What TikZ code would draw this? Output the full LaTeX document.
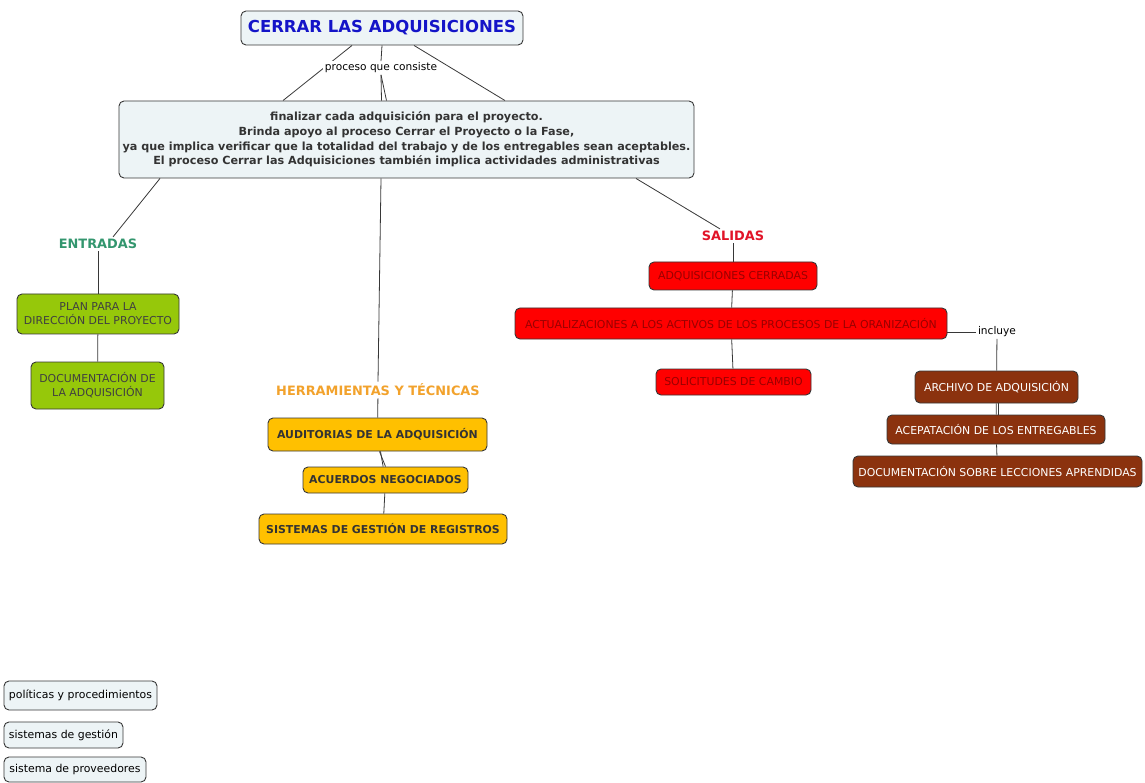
\documentclass[tikz,border=0pt]{standalone}
\usepackage{fontspec}
\setmainfont{DejaVu Sans}
\usepackage{tikz}
\usetikzlibrary{positioning,calc,backgrounds}
\definecolor{cmapblue}{RGB}{20,20,200}
\definecolor{boxpale}{RGB}{237,244,246}
\definecolor{linegray}{RGB}{55,55,55}
\definecolor{ingreen}{RGB}{51,150,110}
\definecolor{toolorange}{RGB}{242,162,44}
\definecolor{outred}{RGB}{225,20,40}
\definecolor{leafgreen}{RGB}{150,200,10}
\definecolor{leafgold}{RGB}{255,192,0}
\definecolor{leafred}{RGB}{255,0,0}
\definecolor{leafbrown}{RGB}{139,50,14}
\newcommand{\fs}[1]{\fontsize{#1}{1.3\dimexpr#1pt\relax}\selectfont}
\tikzset{
  concept/.style={draw=linegray, line width=0.9pt, rounded corners=5pt,
                  inner sep=0pt, align=center},
  paleblk/.style={concept, fill=boxpale, text=black, font=\fs{10.9}},
  greenblk/.style={concept, fill=leafgreen, text=black!75, font=\fs{10.9}},
  goldblk/.style={concept, fill=leafgold, text=black!80, font=\bfseries\fs{10.9}},
  redblk/.style={concept, fill=leafred, text=red!60!black, font=\fs{10.9}},
  brownblk/.style={concept, fill=leafbrown, text=white, font=\fs{10.9}},
  heading/.style={font=\bfseries\fs{12.9}, inner sep=2pt},
  linkword/.style={font=\fs{10.6}, fill=white, inner sep=1.5pt},
  conn/.style={draw=linegray, line width=0.8pt},
}

\begin{document}
\begin{tikzpicture}[x=1pt, y=-1pt]
  \useasboundingbox (0,0) rectangle (1145,783);
  % title and main description
  \node[concept, fill=boxpale, text=cmapblue, font=\bfseries\fs{16.5},
        minimum width=282, minimum height=34] (title) at (382,28) {CERRAR LAS ADQUISICIONES};
  \node[linkword] (consiste) at (381,68) {proceso que consiste};
  \node[paleblk, font=\bfseries\fs{11.2}, text=black!80, minimum width=575, minimum height=77,
        align=center] (main) at (406.5,139.5)
       {finalizar cada adquisición para el proyecto.\\
        Brinda apoyo al proceso Cerrar el Proyecto o la Fase,\\
        ya que implica verificar que la totalidad del trabajo y de los entregables sean aceptables.\\
        El proceso Cerrar las Adquisiciones también implica actividades administrativas};
  \begin{pgfonlayer}{background}
    \draw[conn] ([xshift=-30]title.south) -- ([xshift=-123.5]main.north);
    \draw[conn] ([xshift=32]title.south) -- ([xshift=98.5]main.north);
  \end{pgfonlayer}
  \draw[conn] (title.south) -- (consiste.north);
  \draw[conn] (consiste.south) -- ([xshift=-25]main.north);
  \draw[conn] (consiste.south) -- ([xshift=-20]main.north);

  % entradas
  \node[heading, text=ingreen] (entradas) at (98,244) {ENTRADAS};
  \node[greenblk, minimum width=162, minimum height=40] (plan) at (98,314)
       {PLAN PARA LA\\DIRECCIÓN DEL PROYECTO};
  \node[greenblk, minimum width=133, minimum height=47] (docadq) at (97.5,385.5)
       {DOCUMENTACIÓN DE\\LA ADQUISICIÓN};
  \draw[conn] ([xshift=-246.5]main.south) -- ([xshift=15]entradas.north);
  \draw[conn] (entradas) -- (plan);
  \draw[conn] (plan) -- (docadq);

  % herramientas
  \node[heading, text=toolorange] (herram) at (378,390) {HERRAMIENTAS Y TÉCNICAS};
  \node[goldblk, minimum width=219, minimum height=33] (audit) at (377.5,434.5)
       {AUDITORIAS DE LA ADQUISICIÓN};
  \node[goldblk, minimum width=165, minimum height=26] (acuerdos) at (385.5,480)
       {ACUERDOS NEGOCIADOS};
  \node[goldblk, minimum width=248, minimum height=30] (registros) at (383,529)
       {SISTEMAS DE GESTIÓN DE REGISTROS};
  \draw[conn] ([xshift=-25.5]main.south) -- (herram.north);
  \draw[conn] (herram) -- (audit);
  \draw[conn] (audit) -- (acuerdos);
  \draw[conn] ([xshift=2]audit.south) -- (acuerdos.north);
  \draw[conn] (acuerdos) -- (registros);

  % salidas
  \node[heading, text=outred] (salidas) at (733,236) {SALIDAS};
  \node[redblk, minimum width=168, minimum height=28] (cerradas) at (733,276)
       {ADQUISICIONES CERRADAS};
  \node[redblk, minimum width=432, minimum height=31] (activos) at (731,323.5)
       {ACTUALIZACIONES A LOS ACTIVOS DE LOS PROCESOS DE LA ORANIZACIÓN};
  \node[redblk, minimum width=155, minimum height=26] (cambio) at (733.5,382)
       {SOLICITUDES DE CAMBIO};
  \draw[conn] ([xshift=229.5]main.south) -- ([xshift=-13]salidas.north);
  \draw[conn] (salidas) -- (cerradas);
  \draw[conn] (cerradas) -- (activos);
  \draw[conn] (activos) -- (cambio);

  % incluye
  \node[linkword] (incluye) at (997,332) {incluye};
  \node[brownblk, minimum width=163, minimum height=32] (archivo) at (996.5,387)
       {ARCHIVO DE ADQUISICIÓN};
  \node[brownblk, minimum width=218, minimum height=29] (acepta) at (996,429.5)
       {ACEPATACIÓN DE LOS ENTREGABLES};
  \node[brownblk, minimum width=289, minimum height=31] (lecciones) at (997.5,471.5)
       {DOCUMENTACIÓN SOBRE LECCIONES APRENDIDAS};
  \draw[conn] (activos.east |- incluye) -- (incluye);
  \draw[conn] (incluye) -- (archivo);
  \draw[conn] (archivo) -- (acepta);
  \draw[conn] ([xshift=1.5]archivo.south) -- ([xshift=2]acepta.north);
  \draw[conn] (acepta) -- (lecciones);

  % loose concepts
  \node[paleblk, minimum width=153, minimum height=29] (politicas) at (80.5,695.5)
       {políticas y procedimientos};
  \node[paleblk, minimum width=119, minimum height=26] (gestion) at (63.5,735)
       {sistemas de gestión};
  \node[paleblk, minimum width=142, minimum height=25] (proveedores) at (75,769.5)
       {sistema de proveedores};
\end{tikzpicture}
\end{document}
